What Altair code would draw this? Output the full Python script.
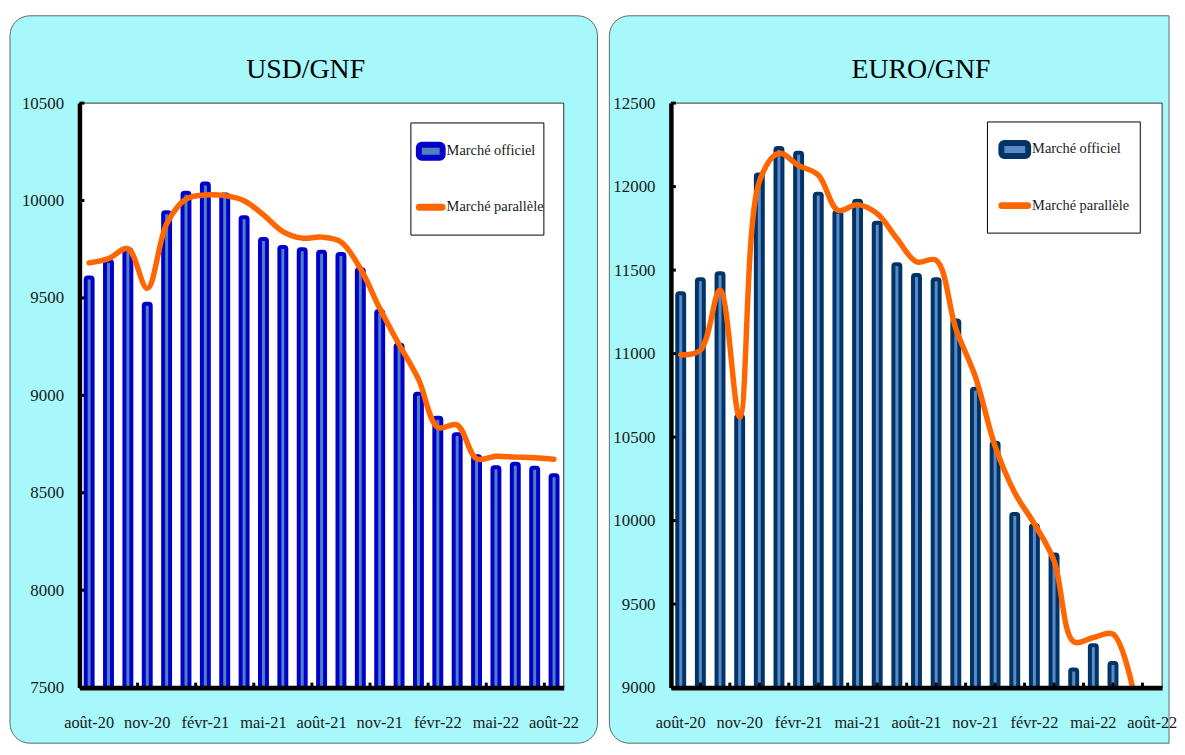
import altair as alt
import pandas as pd

months = ['août-20', 'sept-20', 'oct-20', 'nov-20', 'déc-20', 'janv-21', 'févr-21',
          'mars-21', 'avr-21', 'mai-21', 'juin-21', 'juil-21', 'août-21', 'sept-21',
          'oct-21', 'nov-21', 'déc-21', 'janv-22', 'févr-22', 'mars-22', 'avr-22',
          'mai-22', 'juin-22', 'juil-22', 'août-22']
label_months = ['août-20', 'nov-20', 'févr-21', 'mai-21', 'août-21', 'nov-21',
                'févr-22', 'mai-22', 'août-22']

usd_official = [9605, 9690, 9750, 9470, 9940, 10040, 10087, 10031, 9914, 9802, 9761,
                9750, 9737, 9725, 9647, 9433, 9260, 9008, 8885, 8801, 8687, 8631,
                8649, 8629, 8590]
usd_parallel = [9680, 9702, 9753, 9549, 9880, 10007, 10028, 10025, 9999, 9926, 9841,
                9807, 9812, 9787, 9651, 9447, 9261, 9083, 8836, 8848, 8675, 8687,
                8683, 8680, 8672]

eur_official = [11362, 11445, 11481, 10626, 12073, 12231, 12203, 11958, 11849, 11915,
                11783, 11535, 11471, 11445, 11199, 10789, 10467, 10039, 9973, 9797,
                9108, 9254, 9148, None, None]
eur_parallel = [10993, 11020, 11381, 10619, 12030, 12200, 12126, 12070, 11858, 11892,
                11838, 11689, 11550, 11559, 11150, 10860, 10446, 10167, 9980, 9759,
                9275, 9300, 9320, 9000, None]

usd_yticks = [7500, 8000, 8500, 9000, 9500, 10000, 10500]
eur_yticks = [9000, 9500, 10000, 10500, 11000, 11500, 12000, 12500]

usd_xticks_start = ['nov-20', 'févr-21', 'mai-21', 'août-21', 'nov-21', 'févr-22',
                    'mai-22', 'août-22']
eur_xticks_start = ['nov-20', 'févr-21', 'mai-21', 'août-21', 'nov-21', 'févr-22',
                    'mai-22', 'août-22']
eur_xticks_mid = ['sept-20', 'déc-20', 'mars-21', 'juin-21', 'sept-21', 'déc-21',
                  'mars-22', 'juin-22']

FONT = "'Liberation Serif', 'DejaVu Serif', serif"
CYAN = "#A6F8FA"
ORANGE = "#FF6600"
TXT = "#1a1a1a"


def one():
    return alt.Data(values=[{"k": 1}])


def panel(title, official, parallel, ymin, ymax, yticks, W, H, bar_stroke, bar_fill,
          cyan, radii, title_x, leg, xt_start, xt_mid):
    df = pd.DataFrame({'mois': months, 'officiel': official, 'parallele': parallel})
    xscale = alt.Scale(domain=months, paddingInner=0, paddingOuter=0)
    yscale = alt.Scale(domain=[ymin, ymax], zero=False, nice=False)
    xaxis = alt.Axis(values=label_months, title=None, labelAngle=0, ticks=False,
                     tickSize=0, labelFont=FONT, labelFontSize=16.5, labelColor=TXT,
                     labelPadding=27, domainColor="black", domainWidth=5, grid=False,
                     labelOverlap=False, zindex=1)
    yaxis = alt.Axis(values=yticks, format='d', title=None, ticks=False, tickSize=0,
                     labelFont=FONT, labelFontSize=17, labelColor=TXT, labelPadding=16,
                     domainColor="black", domainWidth=4.5, grid=False,
                     labelOverlap=False, labelFlush=False, zindex=1)
    xenc = alt.X('mois:N', sort=months, scale=xscale, axis=xaxis)

    tl, tr, br, bl = radii
    bg = alt.Chart(one()).mark_rect(fill=CYAN, stroke="#5a6a6a", strokeWidth=1,
                                    cornerRadiusTopLeft=tl, cornerRadiusTopRight=tr,
                                    cornerRadiusBottomRight=br,
                                    cornerRadiusBottomLeft=bl).encode(
        x=alt.value(cyan[0]), x2=alt.value(cyan[1]),
        y=alt.value(cyan[2]), y2=alt.value(cyan[3]))
    plotbg = alt.Chart(one()).mark_rect(fill="white", stroke="#333333",
                                        strokeWidth=1).encode(
        x=alt.value(0), x2=alt.value(W), y=alt.value(0), y2=alt.value(H))

    bars = alt.Chart(df).mark_bar(width=7, fill=bar_fill, stroke=bar_stroke,
                                  strokeWidth=4, cornerRadius=2, clip=True).encode(
        x=xenc,
        y=alt.Y('officiel:Q', scale=yscale, axis=yaxis),
        y2=alt.datum(ymin - 500))
    line = alt.Chart(df).mark_line(color=ORANGE, strokeWidth=5.5, interpolate='catmull-rom',
                                   strokeCap='round', strokeJoin='round',
                                   clip=True).encode(
        x=xenc,
        y=alt.Y('parallele:Q', scale=yscale, axis=yaxis))

    ytick_df = pd.DataFrame({'v': yticks})
    yticks_l = alt.Chart(ytick_df).mark_rule(color="black", strokeWidth=3).encode(
        y=alt.Y('v:Q', scale=yscale, axis=yaxis), x=alt.value(0), x2=alt.value(5))

    layers = [bg, plotbg, bars, line, yticks_l]

    xs_df = pd.DataFrame({'mois': xt_start})
    layers.append(alt.Chart(xs_df).mark_rule(color="black", strokeWidth=3).encode(
        x=alt.X('mois:N', sort=months, scale=xscale, axis=xaxis, bandPosition=0),
        y=alt.value(H - 5), y2=alt.value(H)))
    if xt_mid:
        xm_df = pd.DataFrame({'mois': xt_mid})
        layers.append(alt.Chart(xm_df).mark_rule(color="black", strokeWidth=3).encode(
            x=alt.X('mois:N', sort=months, scale=xscale, axis=xaxis, bandPosition=0.5),
            y=alt.value(H - 5), y2=alt.value(H)))

    # legend
    bx0, bx1, by0, by1, sx0, sx1, y1, y2, tx = leg
    layers.append(alt.Chart(one()).mark_rect(fill="white", stroke="black",
                                             strokeWidth=1).encode(
        x=alt.value(bx0), x2=alt.value(bx1), y=alt.value(by0), y2=alt.value(by1)))
    layers.append(alt.Chart(one()).mark_rect(fill=bar_fill, stroke=bar_stroke,
                                             strokeWidth=6, cornerRadius=3).encode(
        x=alt.value(sx0 + 3), x2=alt.value(sx1 - 3),
        y=alt.value(y1 - 6.5), y2=alt.value(y1 + 6.5)))
    layers.append(alt.Chart(one()).mark_rule(color=ORANGE, strokeWidth=7,
                                             strokeCap='round').encode(
        x=alt.value(sx0 + 3.5), x2=alt.value(sx1 - 3.5), y=alt.value(y2)))
    layers.append(alt.Chart(one()).mark_text(text="Marché officiel", font=FONT,
                                             fontSize=14.5, color=TXT, align='left',
                                             baseline='middle').encode(
        x=alt.value(tx), y=alt.value(y1)))
    layers.append(alt.Chart(one()).mark_text(text="Marché parallèle", font=FONT,
                                             fontSize=14.5, color=TXT, align='left',
                                             baseline='middle').encode(
        x=alt.value(tx), y=alt.value(y2)))
    # panel title
    layers.append(alt.Chart(one()).mark_text(text=title, font=FONT, fontSize=28,
                                             color="black", align='center',
                                             baseline='middle').encode(
        x=alt.value(title_x), y=alt.value(-33)))

    return alt.layer(*layers).properties(width=W, height=H)


left = panel("USD/GNF", usd_official, usd_parallel, 7500, 10500, usd_yticks,
             488, 589, "#0000CC", "#4F81BD",
             (-70, 522, -88, 645), (20, 20, 20, 20), 228,
             (334, 468, 20, 133, 339, 369, 48.5, 105, 370),
             usd_xticks_start, None)
right = panel("EURO/GNF", eur_official, eur_parallel, 9000, 12500, eur_yticks,
              495, 589, "#003366", "#5A8AC8",
              (-62, 502, -88, 645), (20, 0, 0, 20), 252,
              (319, 473, 19, 131, 330, 363, 46.7, 103.3, 364),
              eur_xticks_start, eur_xticks_mid)

chart = alt.hconcat(left, right, spacing=10).properties(
    padding={"left": 1, "top": 4, "right": 0, "bottom": 0},
    background="white"
).configure_view(stroke=None).configure_axis(
    labelFont=FONT
).configure_text(font=FONT).resolve_scale(x='independent', y='independent')

chart.save("out.html", embed_options={"renderer": "svg", "actions": False})
